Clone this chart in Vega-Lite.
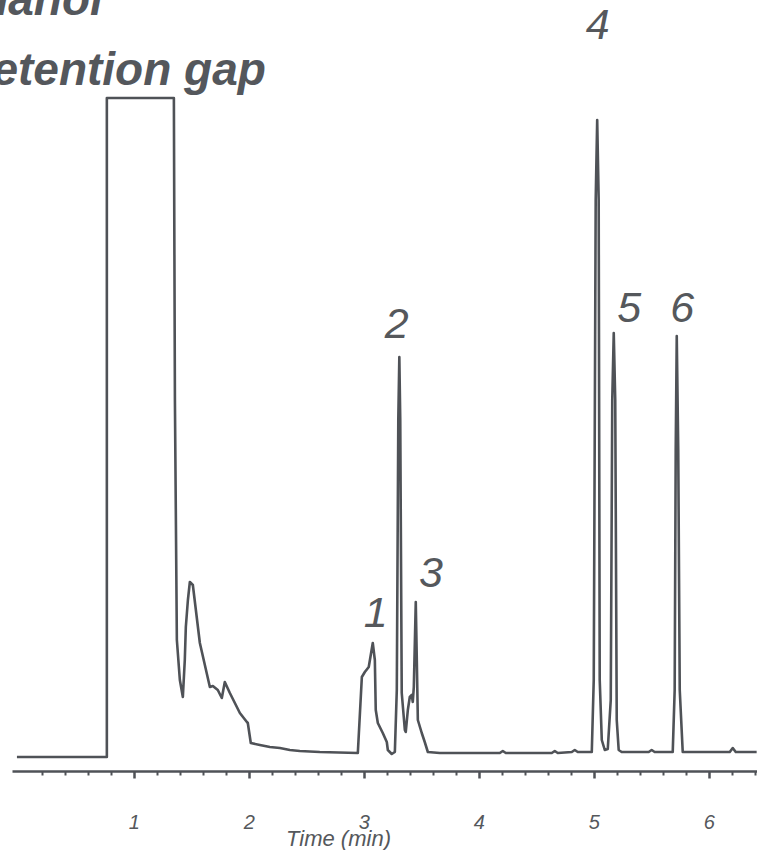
{
  "$schema": "https://vega.github.io/schema/vega-lite/v6.json",
  "width": 745,
  "height": 771,
  "autosize": "none",
  "padding": {"left": 12, "top": 0, "right": 0, "bottom": 79},
  "background": "white",
  "config": {"view": {"stroke": null}},
  "datasets": {
    "trace": [
      {"i": 0, "t": -0.017, "v": 14},
      {"i": 1, "t": 0.765, "v": 14},
      {"i": 2, "t": 0.765, "v": 673},
      {"i": 3, "t": 1.348, "v": 673},
      {"i": 4, "t": 1.357, "v": 371},
      {"i": 5, "t": 1.374, "v": 131},
      {"i": 6, "t": 1.4, "v": 91},
      {"i": 7, "t": 1.426, "v": 74},
      {"i": 8, "t": 1.443, "v": 111},
      {"i": 9, "t": 1.452, "v": 144},
      {"i": 10, "t": 1.47, "v": 171},
      {"i": 11, "t": 1.487, "v": 189},
      {"i": 12, "t": 1.513, "v": 186},
      {"i": 13, "t": 1.574, "v": 128},
      {"i": 14, "t": 1.661, "v": 84},
      {"i": 15, "t": 1.687, "v": 85},
      {"i": 16, "t": 1.73, "v": 81},
      {"i": 17, "t": 1.765, "v": 73},
      {"i": 18, "t": 1.791, "v": 89},
      {"i": 19, "t": 1.835, "v": 78},
      {"i": 20, "t": 1.922, "v": 58},
      {"i": 21, "t": 1.983, "v": 49},
      {"i": 22, "t": 1.991, "v": 48},
      {"i": 23, "t": 2.017, "v": 28},
      {"i": 24, "t": 2.096, "v": 26},
      {"i": 25, "t": 2.183, "v": 24},
      {"i": 26, "t": 2.27, "v": 23},
      {"i": 27, "t": 2.357, "v": 21},
      {"i": 28, "t": 2.443, "v": 20},
      {"i": 29, "t": 2.617, "v": 19},
      {"i": 30, "t": 2.948, "v": 18},
      {"i": 31, "t": 2.983, "v": 94},
      {"i": 32, "t": 3.009, "v": 99},
      {"i": 33, "t": 3.043, "v": 104},
      {"i": 34, "t": 3.078, "v": 128},
      {"i": 35, "t": 3.096, "v": 111},
      {"i": 36, "t": 3.104, "v": 61},
      {"i": 37, "t": 3.122, "v": 48},
      {"i": 38, "t": 3.165, "v": 38},
      {"i": 39, "t": 3.2, "v": 29},
      {"i": 40, "t": 3.209, "v": 21},
      {"i": 41, "t": 3.243, "v": 17},
      {"i": 42, "t": 3.27, "v": 19},
      {"i": 43, "t": 3.287, "v": 81},
      {"i": 44, "t": 3.3, "v": 351},
      {"i": 45, "t": 3.309, "v": 414},
      {"i": 46, "t": 3.317, "v": 351},
      {"i": 47, "t": 3.33, "v": 78},
      {"i": 48, "t": 3.357, "v": 41},
      {"i": 49, "t": 3.365, "v": 39},
      {"i": 50, "t": 3.383, "v": 61},
      {"i": 51, "t": 3.4, "v": 74},
      {"i": 52, "t": 3.417, "v": 76},
      {"i": 53, "t": 3.426, "v": 69},
      {"i": 54, "t": 3.435, "v": 84},
      {"i": 55, "t": 3.452, "v": 169},
      {"i": 56, "t": 3.461, "v": 111},
      {"i": 57, "t": 3.47, "v": 51},
      {"i": 58, "t": 3.504, "v": 38},
      {"i": 59, "t": 3.53, "v": 29},
      {"i": 60, "t": 3.557, "v": 19},
      {"i": 61, "t": 3.661, "v": 18},
      {"i": 62, "t": 4.183, "v": 18},
      {"i": 63, "t": 4.209, "v": 20},
      {"i": 64, "t": 4.235, "v": 18},
      {"i": 65, "t": 4.635, "v": 18},
      {"i": 66, "t": 4.661, "v": 20},
      {"i": 67, "t": 4.687, "v": 18},
      {"i": 68, "t": 4.809, "v": 19},
      {"i": 69, "t": 4.835, "v": 21},
      {"i": 70, "t": 4.861, "v": 19},
      {"i": 71, "t": 4.983, "v": 19},
      {"i": 72, "t": 5.0, "v": 91},
      {"i": 73, "t": 5.017, "v": 571},
      {"i": 74, "t": 5.03, "v": 651},
      {"i": 75, "t": 5.043, "v": 571},
      {"i": 76, "t": 5.052, "v": 91},
      {"i": 77, "t": 5.07, "v": 31},
      {"i": 78, "t": 5.096, "v": 21},
      {"i": 79, "t": 5.122, "v": 22},
      {"i": 80, "t": 5.148, "v": 71},
      {"i": 81, "t": 5.161, "v": 371},
      {"i": 82, "t": 5.174, "v": 438},
      {"i": 83, "t": 5.187, "v": 371},
      {"i": 84, "t": 5.2, "v": 51},
      {"i": 85, "t": 5.217, "v": 21},
      {"i": 86, "t": 5.243, "v": 19},
      {"i": 87, "t": 5.478, "v": 19},
      {"i": 88, "t": 5.504, "v": 21},
      {"i": 89, "t": 5.53, "v": 19},
      {"i": 90, "t": 5.687, "v": 19},
      {"i": 91, "t": 5.704, "v": 81},
      {"i": 92, "t": 5.713, "v": 321},
      {"i": 93, "t": 5.722, "v": 435},
      {"i": 94, "t": 5.735, "v": 321},
      {"i": 95, "t": 5.748, "v": 81},
      {"i": 96, "t": 5.774, "v": 19},
      {"i": 97, "t": 6.183, "v": 19},
      {"i": 98, "t": 6.209, "v": 23},
      {"i": 99, "t": 6.235, "v": 19},
      {"i": 100, "t": 6.417, "v": 19}
    ],
    "peaks": [
      {"label": "1", "t": 3.104, "v": 144},
      {"label": "2", "t": 3.287, "v": 433},
      {"label": "3", "t": 3.583, "v": 184},
      {"label": "4", "t": 5.035, "v": 732},
      {"label": "5", "t": 5.309, "v": 449},
      {"label": "6", "t": 5.77, "v": 449}
    ],
    "heading": [
      {"label": "methanol", "t": 0.73, "v": 756},
      {"label": "retention gap", "t": 2.148, "v": 686}
    ]
  },
  "encoding": {
    "x": {
      "field": "t", "type": "quantitative",
      "scale": {"domain": [-0.06, 6.42], "nice": false, "zero": false},
      "axis": {
        "title": "Time (min)",
        "values": [0.2, 0.4, 0.6, 0.8, 1, 1.2, 1.4, 1.6, 1.8, 2, 2.2, 2.4, 2.6, 2.8, 3, 3.2, 3.4, 3.6, 3.8, 4, 4.2, 4.4, 4.6, 4.8, 5, 5.2, 5.4, 5.6, 5.8, 6, 6.2, 6.4],
        "labelExpr": "abs(datum.value - round(datum.value)) < 0.01 ? format(datum.value, 'd') : ''",
        "labelOverlap": false,
        "labelFlush": false,
        "labelFont": "Liberation Sans",
        "labelFontStyle": "italic",
        "labelFontSize": 20,
        "labelColor": "#55585c",
        "labelPadding": 34,
        "grid": false,
        "domainColor": "#4f5257",
        "domainWidth": 2.5,
        "tickColor": "#4f5257",
        "tickSize": {"condition": {"test": "abs(datum.value - round(datum.value)) < 0.01", "value": 7}, "value": 4},
        "tickWidth": {"condition": {"test": "abs(datum.value - round(datum.value)) < 0.01", "value": 2.5}, "value": 2},
        "titleFont": "Liberation Sans",
        "titleFontStyle": "italic",
        "titleFontWeight": "normal",
        "titleFontSize": 22,
        "titleColor": "#55585c",
        "titleX": 326,
        "titleY": 74,
        "titleAlign": "center",
        "titleBaseline": "alphabetic"
      }
    },
    "y": {"field": "v", "type": "quantitative", "scale": {"domain": [0, 771], "nice": false, "zero": false}, "axis": null}
  },
  "layer": [
    {
      "data": {"name": "trace"},
      "mark": {"type": "line", "color": "#4f5257", "strokeWidth": 2.6, "strokeJoin": "round", "interpolate": "linear"},
      "encoding": {
        "order": {"field": "i", "type": "quantitative"}
      }
    },
    {
      "data": {"name": "peaks"},
      "mark": {"type": "text", "font": "Liberation Sans", "fontStyle": "italic", "fontSize": 43, "color": "#55585c", "align": "center", "baseline": "alphabetic"},
      "encoding": {
        "text": {"field": "label"}
      }
    },
    {
      "data": {"name": "heading"},
      "mark": {"type": "text", "font": "Liberation Sans", "fontStyle": "italic", "fontWeight": "bold", "fontSize": 46, "color": "#54575c", "align": "right", "baseline": "alphabetic"},
      "encoding": {
        "text": {"field": "label"}
      }
    }
  ]
}
